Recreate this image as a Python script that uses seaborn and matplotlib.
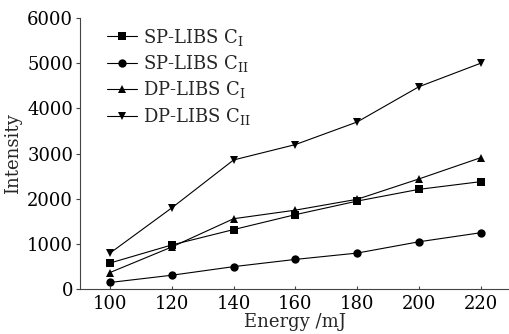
import pandas as pd
import matplotlib.pyplot as plt
import seaborn as sns

# Données
energy = [100, 120, 140, 160, 180, 200, 220]
sp_c1 = [580, 980, 1320, 1650, 1950, 2210, 2380]
sp_c2 = [150, 310, 500, 660, 800, 1050, 1250]
dp_c1 = [370, 935, 1560, 1750, 1990, 2440, 2910]
dp_c2 = [800, 1800, 2860, 3200, 3700, 4480, 5000]

labels = [
    r"SP-LIBS C$_\mathrm{I}$",
    r"SP-LIBS C$_\mathrm{II}$",
    r"DP-LIBS C$_\mathrm{I}$",
    r"DP-LIBS C$_\mathrm{II}$",
]
series = [sp_c1, sp_c2, dp_c1, dp_c2]

df = pd.concat(
    [pd.DataFrame({"Energy": energy, "Intensity": v, "serie": lab}) for lab, v in zip(labels, series)],
    ignore_index=True,
)

sns.set_style("ticks")
plt.rcParams["font.family"] = ["DejaVu Serif"]
plt.rcParams["mathtext.fontset"] = "dejavuserif"

fig = plt.figure(figsize=(5.1, 3.34), dpi=100)
ax = fig.add_axes([0.157, 0.134, 0.843, 0.812])

sns.lineplot(
    data=df,
    x="Energy",
    y="Intensity",
    hue="serie",
    style="serie",
    palette=["black"] * 4,
    markers=["s", "o", "^", "v"],
    dashes=False,
    markersize=6,
    linewidth=0.8,
    markeredgewidth=0,
    ax=ax,
)

ax.set_xlim(90.3, 229.5)
ax.set_ylim(0, 6000)
ax.set_xticks(energy)
ax.set_yticks(range(0, 6001, 1000))
ax.tick_params(labelsize=13, width=0.8, color="#444444", labelcolor="black")
ax.tick_params(axis="x", direction="in", length=2.5, pad=4)
ax.tick_params(axis="y", direction="out", length=3, pad=2)
for s in ["top", "right"]:
    ax.spines[s].set_visible(False)
for s in ["left", "bottom"]:
    ax.spines[s].set_linewidth(0.8)
    ax.spines[s].set_color("#444444")

# étiquette x le plus bas possible sans être coupée
ax.set_xlabel("Energy /mJ", fontsize=13, labelpad=0.5)
ax.set_ylabel("Intensity", fontsize=13, labelpad=4)

leg = ax.legend(
    loc="upper left",
    bbox_to_anchor=(0.045, 0.995),
    frameon=False,
    fontsize=13,
    handlelength=1.7,
    handletextpad=0.3,
    labelspacing=0.3,
    borderaxespad=0,
)

fig.savefig("out.png", dpi=100)
